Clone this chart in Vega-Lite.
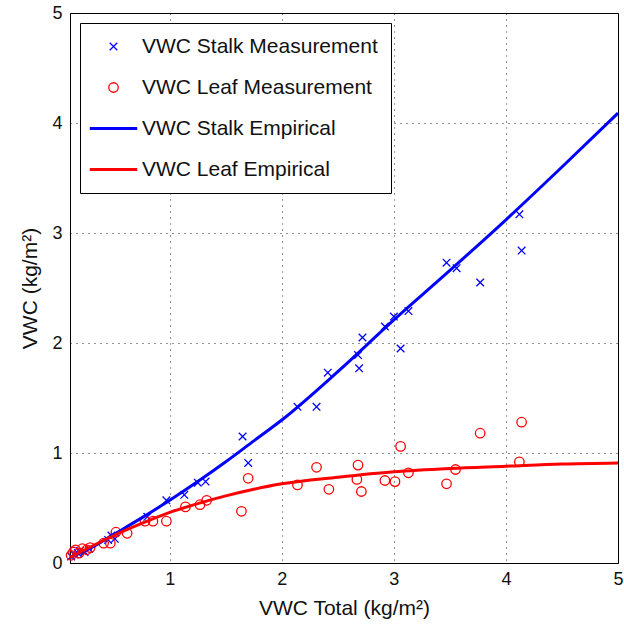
{
  "$schema": "https://vega.github.io/schema/vega-lite/v6.json",
  "width": 548,
  "height": 550,
  "autosize": "none",
  "padding": {"left": 70, "top": 13, "right": 6, "bottom": 73},
  "background": "white",
  "config": {
    "font": "Liberation Sans",
    "view": {"stroke": "black", "strokeWidth": 1},
    "axis": {
      "domainColor": "black",
      "ticks": false,
      "labelColor": "#111",
      "labelFontSize": 18,
      "titleFontSize": 21,
      "titleFontWeight": "normal",
      "titleColor": "#111",
      "gridColor": "black",
      "gridDash": [1, 5],
      "gridOpacity": 0.85,
      "gridWidth": 1
    },
    "legend": {
      "orient": "top-left",
      "offset": 10,
      "fillColor": "white",
      "strokeColor": "black",
      "padding": 13,
      "labelFontSize": 21,
      "labelColor": "#111",
      "symbolSize": 90,
      "symbolOffset": 10,
      "symbolStrokeWidth": 1.5,
      "rowPadding": 19,
      "labelOffset": 18,
      "labelLimit": 400
    }
  },
  "datasets": {
    "meas": [
      {"total": 0.12, "vwc": 0.06, "series": "VWC Stalk Measurement"},
      {"total": 0.15, "vwc": 0.08, "series": "VWC Stalk Measurement"},
      {"total": 0.18, "vwc": 0.09, "series": "VWC Stalk Measurement"},
      {"total": 0.20, "vwc": 0.11, "series": "VWC Stalk Measurement"},
      {"total": 0.24, "vwc": 0.10, "series": "VWC Stalk Measurement"},
      {"total": 0.28, "vwc": 0.13, "series": "VWC Stalk Measurement"},
      {"total": 0.45, "vwc": 0.21, "series": "VWC Stalk Measurement"},
      {"total": 0.48, "vwc": 0.25, "series": "VWC Stalk Measurement"},
      {"total": 0.51, "vwc": 0.22, "series": "VWC Stalk Measurement"},
      {"total": 0.80, "vwc": 0.42, "series": "VWC Stalk Measurement"},
      {"total": 0.97, "vwc": 0.57, "series": "VWC Stalk Measurement"},
      {"total": 1.13, "vwc": 0.62, "series": "VWC Stalk Measurement"},
      {"total": 1.25, "vwc": 0.73, "series": "VWC Stalk Measurement"},
      {"total": 1.32, "vwc": 0.74, "series": "VWC Stalk Measurement"},
      {"total": 1.65, "vwc": 1.15, "series": "VWC Stalk Measurement"},
      {"total": 1.70, "vwc": 0.91, "series": "VWC Stalk Measurement"},
      {"total": 2.14, "vwc": 1.42, "series": "VWC Stalk Measurement"},
      {"total": 2.31, "vwc": 1.42, "series": "VWC Stalk Measurement"},
      {"total": 2.41, "vwc": 1.73, "series": "VWC Stalk Measurement"},
      {"total": 2.68, "vwc": 1.89, "series": "VWC Stalk Measurement"},
      {"total": 2.69, "vwc": 1.77, "series": "VWC Stalk Measurement"},
      {"total": 2.72, "vwc": 2.05, "series": "VWC Stalk Measurement"},
      {"total": 2.92, "vwc": 2.15, "series": "VWC Stalk Measurement"},
      {"total": 3.00, "vwc": 2.24, "series": "VWC Stalk Measurement"},
      {"total": 3.06, "vwc": 1.95, "series": "VWC Stalk Measurement"},
      {"total": 3.13, "vwc": 2.29, "series": "VWC Stalk Measurement"},
      {"total": 3.47, "vwc": 2.73, "series": "VWC Stalk Measurement"},
      {"total": 3.56, "vwc": 2.68, "series": "VWC Stalk Measurement"},
      {"total": 3.77, "vwc": 2.55, "series": "VWC Stalk Measurement"},
      {"total": 4.12, "vwc": 3.17, "series": "VWC Stalk Measurement"},
      {"total": 4.14, "vwc": 2.84, "series": "VWC Stalk Measurement"},
      {"total": 0.12, "vwc": 0.07, "series": "VWC Leaf Measurement"},
      {"total": 0.14, "vwc": 0.10, "series": "VWC Leaf Measurement"},
      {"total": 0.16, "vwc": 0.12, "series": "VWC Leaf Measurement"},
      {"total": 0.19, "vwc": 0.09, "series": "VWC Leaf Measurement"},
      {"total": 0.22, "vwc": 0.13, "series": "VWC Leaf Measurement"},
      {"total": 0.26, "vwc": 0.12, "series": "VWC Leaf Measurement"},
      {"total": 0.29, "vwc": 0.14, "series": "VWC Leaf Measurement"},
      {"total": 0.41, "vwc": 0.18, "series": "VWC Leaf Measurement"},
      {"total": 0.47, "vwc": 0.18, "series": "VWC Leaf Measurement"},
      {"total": 0.52, "vwc": 0.28, "series": "VWC Leaf Measurement"},
      {"total": 0.62, "vwc": 0.27, "series": "VWC Leaf Measurement"},
      {"total": 0.78, "vwc": 0.38, "series": "VWC Leaf Measurement"},
      {"total": 0.85, "vwc": 0.38, "series": "VWC Leaf Measurement"},
      {"total": 0.97, "vwc": 0.38, "series": "VWC Leaf Measurement"},
      {"total": 1.14, "vwc": 0.51, "series": "VWC Leaf Measurement"},
      {"total": 1.27, "vwc": 0.53, "series": "VWC Leaf Measurement"},
      {"total": 1.33, "vwc": 0.57, "series": "VWC Leaf Measurement"},
      {"total": 1.64, "vwc": 0.47, "series": "VWC Leaf Measurement"},
      {"total": 1.70, "vwc": 0.77, "series": "VWC Leaf Measurement"},
      {"total": 2.14, "vwc": 0.71, "series": "VWC Leaf Measurement"},
      {"total": 2.31, "vwc": 0.87, "series": "VWC Leaf Measurement"},
      {"total": 2.42, "vwc": 0.67, "series": "VWC Leaf Measurement"},
      {"total": 2.67, "vwc": 0.76, "series": "VWC Leaf Measurement"},
      {"total": 2.68, "vwc": 0.89, "series": "VWC Leaf Measurement"},
      {"total": 2.71, "vwc": 0.65, "series": "VWC Leaf Measurement"},
      {"total": 2.92, "vwc": 0.75, "series": "VWC Leaf Measurement"},
      {"total": 3.01, "vwc": 0.74, "series": "VWC Leaf Measurement"},
      {"total": 3.06, "vwc": 1.06, "series": "VWC Leaf Measurement"},
      {"total": 3.13, "vwc": 0.82, "series": "VWC Leaf Measurement"},
      {"total": 3.47, "vwc": 0.72, "series": "VWC Leaf Measurement"},
      {"total": 3.55, "vwc": 0.85, "series": "VWC Leaf Measurement"},
      {"total": 3.77, "vwc": 1.18, "series": "VWC Leaf Measurement"},
      {"total": 4.12, "vwc": 0.92, "series": "VWC Leaf Measurement"},
      {"total": 4.14, "vwc": 1.28, "series": "VWC Leaf Measurement"}
    ],
    "emp": [
      {"total": 0.11, "vwc": 0.05, "series": "VWC Stalk Empirical"},
      {"total": 0.3, "vwc": 0.14, "series": "VWC Stalk Empirical"},
      {"total": 0.5, "vwc": 0.26, "series": "VWC Stalk Empirical"},
      {"total": 0.75, "vwc": 0.41, "series": "VWC Stalk Empirical"},
      {"total": 1.0, "vwc": 0.57, "series": "VWC Stalk Empirical"},
      {"total": 1.25, "vwc": 0.74, "series": "VWC Stalk Empirical"},
      {"total": 1.5, "vwc": 0.92, "series": "VWC Stalk Empirical"},
      {"total": 1.75, "vwc": 1.11, "series": "VWC Stalk Empirical"},
      {"total": 2.0, "vwc": 1.30, "series": "VWC Stalk Empirical"},
      {"total": 2.5, "vwc": 1.74, "series": "VWC Stalk Empirical"},
      {"total": 3.0, "vwc": 2.21, "series": "VWC Stalk Empirical"},
      {"total": 3.5, "vwc": 2.66, "series": "VWC Stalk Empirical"},
      {"total": 4.0, "vwc": 3.12, "series": "VWC Stalk Empirical"},
      {"total": 4.5, "vwc": 3.60, "series": "VWC Stalk Empirical"},
      {"total": 5.0, "vwc": 4.09, "series": "VWC Stalk Empirical"},
      {"total": 0.11, "vwc": 0.05, "series": "VWC Leaf Empirical"},
      {"total": 0.3, "vwc": 0.15, "series": "VWC Leaf Empirical"},
      {"total": 0.5, "vwc": 0.25, "series": "VWC Leaf Empirical"},
      {"total": 0.75, "vwc": 0.36, "series": "VWC Leaf Empirical"},
      {"total": 1.0, "vwc": 0.46, "series": "VWC Leaf Empirical"},
      {"total": 1.25, "vwc": 0.54, "series": "VWC Leaf Empirical"},
      {"total": 1.5, "vwc": 0.61, "series": "VWC Leaf Empirical"},
      {"total": 1.75, "vwc": 0.67, "series": "VWC Leaf Empirical"},
      {"total": 2.0, "vwc": 0.72, "series": "VWC Leaf Empirical"},
      {"total": 2.5, "vwc": 0.78, "series": "VWC Leaf Empirical"},
      {"total": 3.0, "vwc": 0.83, "series": "VWC Leaf Empirical"},
      {"total": 3.5, "vwc": 0.86, "series": "VWC Leaf Empirical"},
      {"total": 4.0, "vwc": 0.88, "series": "VWC Leaf Empirical"},
      {"total": 4.5, "vwc": 0.90, "series": "VWC Leaf Empirical"},
      {"total": 5.0, "vwc": 0.91, "series": "VWC Leaf Empirical"}
    ]
  },
  "encoding": {
    "x": {
      "field": "total",
      "type": "quantitative",
      "scale": {"domain": [0.11, 5], "nice": false, "zero": false},
      "axis": {"title": "VWC Total (kg/m²)", "values": [1, 2, 3, 4, 5], "labelPadding": 7, "titlePadding": 9, "labelFlush": false}
    },
    "y": {
      "field": "vwc",
      "type": "quantitative",
      "scale": {"domain": [0, 5], "nice": false},
      "axis": {"title": "VWC (kg/m²)", "values": [0, 1, 2, 3, 4, 5], "labelPadding": 8, "titlePadding": 11, "labelFlush": false}
    },
    "color": {
      "field": "series",
      "type": "nominal",
      "scale": {
        "domain": ["VWC Stalk Measurement", "VWC Leaf Measurement", "VWC Stalk Empirical", "VWC Leaf Empirical"],
        "range": ["#0000ff", "#ff0000", "#0000ff", "#ff0000"]
      },
      "legend": {
        "title": null,
        "encode": {
          "symbols": {
            "update": {
              "strokeWidth": {"signal": "datum.index >= 2 ? 3 : 1.3"}
            }
          }
        }
      }
    }
  },
  "layer": [
    {
      "data": {"name": "meas"},
      "mark": {"type": "point", "filled": false, "size": 90, "strokeWidth": 1.3, "opacity": 1},
      "encoding": {
        "shape": {
          "field": "series",
          "type": "nominal",
          "scale": {
            "domain": ["VWC Stalk Measurement", "VWC Leaf Measurement", "VWC Stalk Empirical", "VWC Leaf Empirical"],
            "range": ["M-0.8,-0.8L0.8,0.8M-0.8,0.8L0.8,-0.8", "circle", "M-5,0L5,0", "M-5,0L5,0"]
          },
          "legend": {"title": null}
        }
      }
    },
    {
      "data": {"name": "emp"},
      "mark": {"type": "line", "strokeWidth": 3, "interpolate": "monotone"},
      "encoding": {}
    }
  ]
}
